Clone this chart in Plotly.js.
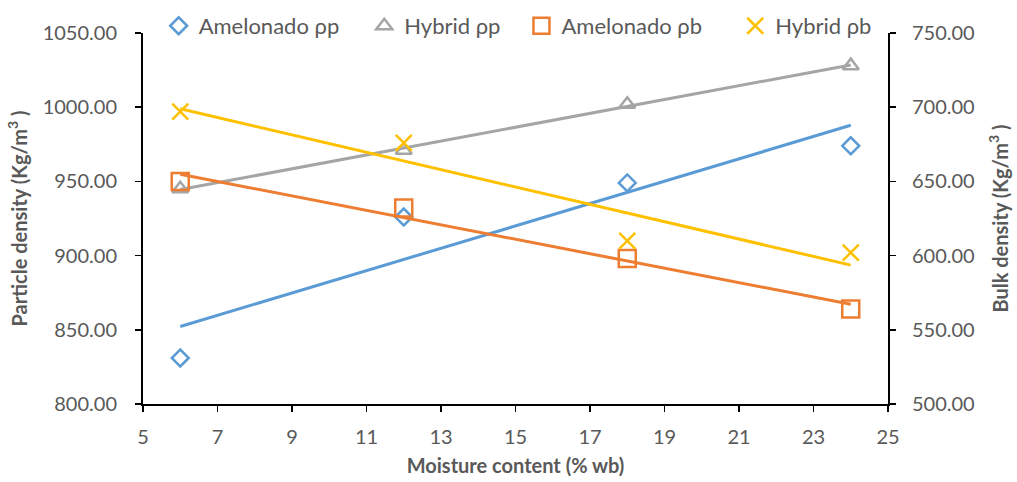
<!DOCTYPE html>
<html><head><meta charset="utf-8">
<script src="https://cdn.plot.ly/plotly-3.0.1.min.js"></script>
<style>html,body{margin:0;padding:0;background:#fff}#chart{width:1017px;height:482px}</style>
</head><body><div id="chart"></div>
<script>
const moisture = [6, 12, 18, 24];
const amelonadoPP = [831, 926, 949, 974];
const hybridPP = [945, 971, 1002, 1028];
const amelonadoPB = [650, 632, 598, 564];
const hybridPB = [697, 676, 610, 602];
const seriesNames = ["Amelonado \u03c1p", "Hybrid \u03c1p", "Amelonado \u03c1b", "Hybrid \u03c1b"];
const xTicks = [5, 7, 9, 11, 13, 15, 17, 19, 21, 23, 25];

function fit(xs, ys) {
  const n = xs.length;
  const mx = xs.reduce((a, b) => a + b, 0) / n;
  const my = ys.reduce((a, b) => a + b, 0) / n;
  let sxy = 0, sxx = 0;
  for (let i = 0; i < n; i++) { sxy += (xs[i] - mx) * (ys[i] - my); sxx += (xs[i] - mx) ** 2; }
  const b = sxy / sxx, a = my - b * mx;
  const ex = [xs[0], xs[n - 1]];
  return { x: ex, y: ex.map(v => a + b * v) };
}

const colors = ["#5B9BD5", "#A5A5A5", "#ED7D31", "#FFC000"];
const symbols = ["diamond-open", "triangle-up-open", "square-open", "x-thin-open"];
const sizes = [13, 14, 17, 16];
const data = [amelonadoPP, hybridPP, amelonadoPB, hybridPB];
const yaxes = ["y", "y", "y2", "y2"];
const legendIds = ["legend", "legend2", "legend3", "legend4"];
const legendX = [0.021, 0.297, 0.508, 0.795];

const traces = [];
data.forEach((ys, i) => {
  const f = fit(moisture, ys);
  traces.push({ x: f.x, y: f.y, yaxis: yaxes[i], mode: "lines", showlegend: false,
    line: { color: colors[i], width: 3 }, hoverinfo: "skip" });
});
data.forEach((ys, i) => {
  traces.push({ x: moisture, y: ys, yaxis: yaxes[i], mode: "markers", name: seriesNames[i],
    legend: legendIds[i],
    marker: { symbol: symbols[i], size: sizes[i], color: colors[i], line: { color: colors[i], width: 2.5 } } });
});

const fam = "Lato, 'Open Sans', sans-serif";
const tickFont = { family: fam, size: 20, color: "#595959" };
const titleFont = { family: fam, size: 20, color: "#595959", weight: "bold" };

const layout = {
  width: 1017, height: 482,
  margin: { l: 143, r: 129, t: 33, b: 78, autoexpand: false },
  paper_bgcolor: "#fff", plot_bgcolor: "#fff",
  showlegend: true,
  xaxis: { range: [5, 25], tickvals: xTicks, ticktext: xTicks.map(String), showgrid: false, zeroline: false,
    showline: true, linecolor: "#000", linewidth: 2, ticks: "outside", ticklen: 6, tickcolor: "#000", tickwidth: 1.5,
    ticklabelstandoff: 8,
    tickfont: tickFont, title: { text: "Moisture content (% wb)", font: titleFont, standoff: 12 } },
  yaxis: { range: [800, 1050], dtick: 50, tickformat: ".2f", showgrid: false, zeroline: false,
    showline: true, linecolor: "#000", linewidth: 2, ticks: "outside", ticklen: 6, tickcolor: "#000", tickwidth: 1.5,
    ticklabelstandoff: 14,
    tickfont: tickFont, title: { text: "Particle density (Kg/m<sup>3</sup> )", font: titleFont, standoff: 10 } },
  yaxis2: { range: [500, 750], dtick: 50, tickformat: ".2f", overlaying: "y", side: "right", showgrid: false, zeroline: false,
    showline: true, linecolor: "#000", linewidth: 2, ticks: "outside", ticklen: 6, tickcolor: "#000", tickwidth: 1.5,
    ticklabelstandoff: 12,
    tickfont: tickFont, title: { text: "Bulk density (Kg/m<sup>3</sup> )", font: titleFont, standoff: 20 } }
};
legendIds.forEach((id, i) => {
  layout[id] = { orientation: "h", x: legendX[i], xanchor: "left", y: 1.019, yanchor: "middle",
    font: { family: fam, size: 22, color: "#595959" }, itemwidth: 30, bgcolor: "rgba(0,0,0,0)" };
});

Plotly.newPlot("chart", traces, layout, { displayModeBar: false, staticPlot: true });
</script></body></html>
